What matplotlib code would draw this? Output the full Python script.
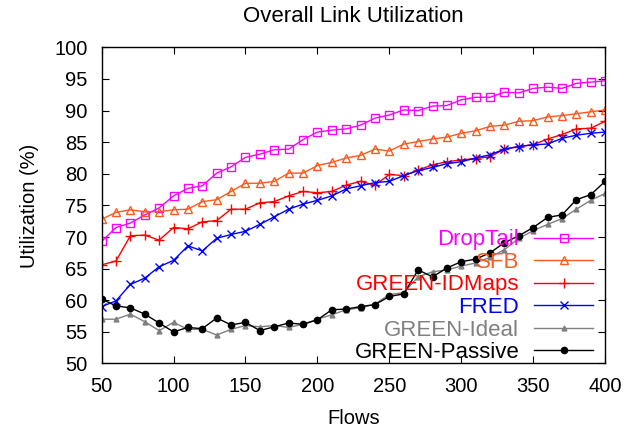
import matplotlib
matplotlib.use("Agg")
import matplotlib.pyplot as plt

plt.rcParams['font.family'] = ['Liberation Sans', 'DejaVu Sans']

flows = list(range(50, 401, 10))

droptail = [69.3, 71.5, 72.2, 73.5, 74.6, 76.5, 77.7, 78.1, 80.1, 81.1,
            82.6, 83.1, 83.8, 83.9, 85.4, 86.6, 86.9, 87.1, 87.7, 88.8,
            89.3, 90.1, 90.0, 90.7, 90.8, 91.7, 92.1, 92.1, 92.9, 92.8,
            93.5, 93.7, 93.5, 94.3, 94.5, 94.7]
sfb = [72.8, 73.9, 74.3, 74.0, 74.0, 74.3, 74.4, 75.6, 75.9, 77.2,
       78.5, 78.5, 78.8, 80.1, 80.1, 81.3, 81.8, 82.5, 82.9, 83.9,
       83.6, 84.7, 85.1, 85.5, 85.8, 86.4, 86.8, 87.5, 87.7, 88.3,
       88.4, 89.0, 89.2, 89.5, 89.8, 90.1]
idmaps = [65.6, 66.2, 70.2, 70.3, 69.5, 71.5, 71.3, 72.4, 72.6, 74.4,
          74.4, 75.4, 75.6, 76.5, 77.2, 77.0, 77.2, 78.2, 78.8, 78.2,
          79.9, 79.7, 80.6, 81.4, 81.9, 82.2, 82.4, 82.7, 83.9, 84.3,
          84.6, 85.5, 86.2, 87.1, 87.2, 88.3]
fred = [59.0, 59.9, 62.5, 63.5, 65.3, 66.3, 68.6, 67.8, 69.8, 70.4,
        70.9, 72.0, 73.2, 74.4, 75.2, 75.8, 76.5, 77.6, 78.1, 78.6,
        78.8, 79.7, 80.5, 81.0, 81.6, 81.9, 82.5, 83.0, 83.9, 84.3,
        84.6, 84.7, 85.6, 86.1, 86.4, 86.6]
ideal = [57.0, 57.0, 57.8, 56.6, 55.2, 56.5, 55.4, 55.4, 54.5, 55.4,
         56.0, 55.8, 56.0, 55.7, 56.2, 57.0, 57.7, 58.5, 58.8, 59.4,
         60.9, 61.2, 63.7, 64.5, 64.8, 65.4, 65.9, 66.8, 68.0, 69.8,
         71.0, 72.0, 72.9, 74.4, 75.8, 76.9]
passive = [60.2, 59.1, 58.8, 57.8, 56.4, 55.0, 55.7, 55.5, 57.2, 56.1,
           56.5, 55.2, 55.8, 56.4, 56.2, 56.9, 58.5, 58.6, 59.0, 59.3,
           60.6, 61.0, 64.8, 63.7, 65.1, 66.1, 66.5, 67.5, 69.1, 70.2,
           71.5, 73.1, 73.5, 75.9, 76.7, 78.8]

series = [
    ("DropTail", droptail, "#ff00ff", dict(marker="s", mfc="none", ms=5.5)),
    ("SFB", sfb, "#ff5a1e", dict(marker="^", mfc="none", ms=5.5)),
    ("GREEN-IDMaps", idmaps, "#ff0000", dict(marker="+", ms=7)),
    ("FRED", fred, "#0000ff", dict(marker="x", ms=5.5)),
    ("GREEN-Ideal", ideal, "#808080", dict(marker="^", ms=3.5)),
    ("GREEN-Passive", passive, "#000000", dict(marker="o", ms=4.5)),
]

fig = plt.figure(figsize=(6.35, 4.34), dpi=100)
ax = fig.add_axes([0.160, 0.1625, 0.793, 0.7285])

for name, vals, color, style in series:
    ax.plot(flows, vals, color=color, lw=1.0, mew=1.0, label=name, **style)

ax.set_xlim(50, 400)
ax.set_ylim(50, 100)
ax.set_xticks(range(50, 401, 50))
ax.set_yticks(range(50, 101, 5))
ax.tick_params(direction="in", top=True, right=True, labelsize=14.5, length=5, pad=10)
for sp in ax.spines.values():
    sp.set_linewidth(1.0)

ax.set_xlabel("Flows", fontsize=14.5, labelpad=9)
ax.set_ylabel("Utilization (%)", fontsize=14.5, labelpad=11)
ax.set_title("Overall Link Utilization", fontsize=16, pad=18)

leg = ax.legend(loc="lower right", bbox_to_anchor=(0.981, -0.006), frameon=False,
                markerfirst=False, labelcolor="linecolor", fontsize=16,
                handlelength=2.66, handletextpad=0.68, labelspacing=0.07,
                borderaxespad=0.0, borderpad=0.1, markerscale=1.0)
for t in leg.get_texts():
    t.set_ha("right")

fig.savefig("out.png", dpi=100)
